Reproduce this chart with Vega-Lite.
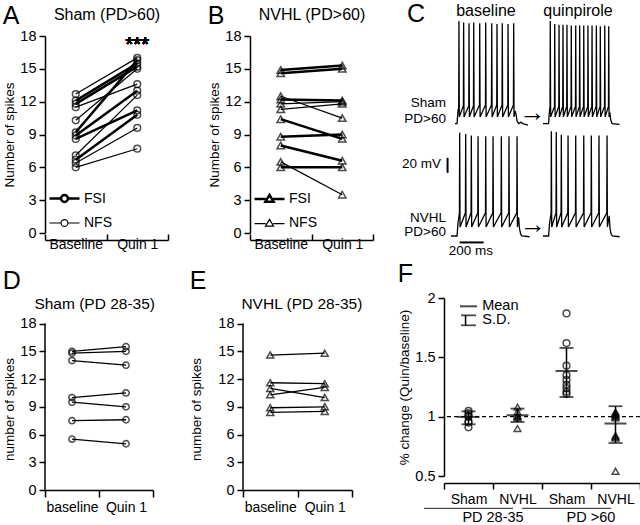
{
  "$schema": "https://vega.github.io/schema/vega-lite/v6.json",
  "padding": {"left": 2, "top": 2, "right": 0, "bottom": 0},
  "config": {
    "font": "Liberation Sans",
    "view": {"stroke": null},
    "axis": {"domainColor": "black", "domainWidth": 1.5, "tickColor": "black", "tickWidth": 1.5, "tickSize": 6, "labelColor": "black", "labelFont": "Liberation Sans", "labelFontSize": 14.5, "labelPadding": 3, "titleColor": "black", "titleFont": "Liberation Sans", "titleFontSize": 13.5, "titleFontWeight": "normal", "titlePadding": 3, "grid": false},
    "axisX": {"labelAngle": 0, "labelFontSize": 14},
    "title": {"font": "Liberation Sans", "fontSize": 25, "fontWeight": "normal", "color": "black", "anchor": "start", "frame": "bounds", "baseline": "alphabetic"},
    "legend": {"orient": "bottom-left", "offset": 3, "symbolSize": 900, "symbolStrokeColor": "black", "labelFontSize": 14, "labelOffset": 3, "rowPadding": 0, "padding": 0, "labelFont": "Liberation Sans", "labelColor": "black"}
  },
  "datasets": {
    "a": [
      {"cell": "a1", "type": "NFS", "cond": "Baseline", "n": 12.7}, {"cell": "a1", "type": "NFS", "cond": "Quin 1", "n": 16.0},
      {"cell": "a2", "type": "FSI", "cond": "Baseline", "n": 12.1}, {"cell": "a2", "type": "FSI", "cond": "Quin 1", "n": 15.5},
      {"cell": "a3", "type": "FSI", "cond": "Baseline", "n": 11.8}, {"cell": "a3", "type": "FSI", "cond": "Quin 1", "n": 15.2},
      {"cell": "a4", "type": "NFS", "cond": "Baseline", "n": 11.5}, {"cell": "a4", "type": "NFS", "cond": "Quin 1", "n": 13.6},
      {"cell": "a5", "type": "NFS", "cond": "Baseline", "n": 10.3}, {"cell": "a5", "type": "NFS", "cond": "Quin 1", "n": 15.0},
      {"cell": "a6", "type": "FSI", "cond": "Baseline", "n": 9.2}, {"cell": "a6", "type": "FSI", "cond": "Quin 1", "n": 15.8},
      {"cell": "a7", "type": "FSI", "cond": "Baseline", "n": 8.9}, {"cell": "a7", "type": "FSI", "cond": "Quin 1", "n": 13.0},
      {"cell": "a8", "type": "FSI", "cond": "Baseline", "n": 8.6}, {"cell": "a8", "type": "FSI", "cond": "Quin 1", "n": 11.2},
      {"cell": "a9", "type": "NFS", "cond": "Baseline", "n": 7.1}, {"cell": "a9", "type": "NFS", "cond": "Quin 1", "n": 12.6},
      {"cell": "a10", "type": "FSI", "cond": "Baseline", "n": 6.7}, {"cell": "a10", "type": "FSI", "cond": "Quin 1", "n": 10.8},
      {"cell": "a11", "type": "NFS", "cond": "Baseline", "n": 6.4}, {"cell": "a11", "type": "NFS", "cond": "Quin 1", "n": 9.6},
      {"cell": "a12", "type": "NFS", "cond": "Baseline", "n": 6.0}, {"cell": "a12", "type": "NFS", "cond": "Quin 1", "n": 7.7}
    ],
    "b": [
      {"cell": "b1", "type": "FSI", "cond": "Baseline", "n": 14.9}, {"cell": "b1", "type": "FSI", "cond": "Quin 1", "n": 15.3},
      {"cell": "b2", "type": "FSI", "cond": "Baseline", "n": 14.6}, {"cell": "b2", "type": "FSI", "cond": "Quin 1", "n": 15.0},
      {"cell": "b3", "type": "NFS", "cond": "Baseline", "n": 12.5}, {"cell": "b3", "type": "NFS", "cond": "Quin 1", "n": 10.5},
      {"cell": "b4", "type": "FSI", "cond": "Baseline", "n": 12.2}, {"cell": "b4", "type": "FSI", "cond": "Quin 1", "n": 12.1},
      {"cell": "b5", "type": "NFS", "cond": "Baseline", "n": 11.8}, {"cell": "b5", "type": "NFS", "cond": "Quin 1", "n": 12.0},
      {"cell": "b6", "type": "NFS", "cond": "Baseline", "n": 11.3}, {"cell": "b6", "type": "NFS", "cond": "Quin 1", "n": 11.8},
      {"cell": "b7", "type": "FSI", "cond": "Baseline", "n": 10.4}, {"cell": "b7", "type": "FSI", "cond": "Quin 1", "n": 8.6},
      {"cell": "b8", "type": "FSI", "cond": "Baseline", "n": 8.8}, {"cell": "b8", "type": "FSI", "cond": "Quin 1", "n": 9.0},
      {"cell": "b9", "type": "FSI", "cond": "Baseline", "n": 8.0}, {"cell": "b9", "type": "FSI", "cond": "Quin 1", "n": 6.6},
      {"cell": "b10", "type": "NFS", "cond": "Baseline", "n": 6.5}, {"cell": "b10", "type": "NFS", "cond": "Quin 1", "n": 3.5},
      {"cell": "b11", "type": "FSI", "cond": "Baseline", "n": 6.0}, {"cell": "b11", "type": "FSI", "cond": "Quin 1", "n": 6.0}
    ],
    "d": [
      {"cell": "d1", "cond": "baseline", "n": 15.0}, {"cell": "d1", "cond": "Quin 1", "n": 15.5},
      {"cell": "d2", "cond": "baseline", "n": 14.8}, {"cell": "d2", "cond": "Quin 1", "n": 15.0},
      {"cell": "d3", "cond": "baseline", "n": 14.0}, {"cell": "d3", "cond": "Quin 1", "n": 13.5},
      {"cell": "d4", "cond": "baseline", "n": 10.0}, {"cell": "d4", "cond": "Quin 1", "n": 10.5},
      {"cell": "d5", "cond": "baseline", "n": 9.5}, {"cell": "d5", "cond": "Quin 1", "n": 9.0},
      {"cell": "d6", "cond": "baseline", "n": 7.5}, {"cell": "d6", "cond": "Quin 1", "n": 7.6},
      {"cell": "d7", "cond": "baseline", "n": 5.5}, {"cell": "d7", "cond": "Quin 1", "n": 5.0}
    ],
    "e": [
      {"cell": "e1", "cond": "baseline", "n": 14.6}, {"cell": "e1", "cond": "Quin 1", "n": 14.8},
      {"cell": "e2", "cond": "baseline", "n": 11.6}, {"cell": "e2", "cond": "Quin 1", "n": 11.5},
      {"cell": "e3", "cond": "baseline", "n": 11.0}, {"cell": "e3", "cond": "Quin 1", "n": 10.0},
      {"cell": "e4", "cond": "baseline", "n": 10.3}, {"cell": "e4", "cond": "Quin 1", "n": 11.1},
      {"cell": "e5", "cond": "baseline", "n": 8.9}, {"cell": "e5", "cond": "Quin 1", "n": 9.0},
      {"cell": "e6", "cond": "baseline", "n": 8.4}, {"cell": "e6", "cond": "Quin 1", "n": 8.5}
    ],
    "f": [
      {"grp": "Sham", "cell": "Sham", "r": 1.05}, {"grp": "Sham", "cell": "Sham", "r": 1.03}, {"grp": "Sham", "cell": "Sham", "r": 1.01}, {"grp": "Sham", "cell": "Sham", "r": 0.96}, {"grp": "Sham", "cell": "Sham", "r": 0.95}, {"grp": "Sham", "cell": "Sham", "r": 0.91}, {"grp": "Sham", "cell": "Sham", "r": 1.0},
      {"grp": "NVHL", "cell": "NVHL", "r": 1.08}, {"grp": "NVHL", "cell": "NVHL", "r": 1.04}, {"grp": "NVHL", "cell": "NVHL", "r": 1.01}, {"grp": "NVHL", "cell": "NVHL", "r": 1.0}, {"grp": "NVHL", "cell": "NVHL", "r": 0.99}, {"grp": "NVHL", "cell": "NVHL", "r": 0.9},
      {"grp": "Sham ", "cell": "Sham", "r": 1.87}, {"grp": "Sham ", "cell": "Sham", "r": 1.62}, {"grp": "Sham ", "cell": "Sham", "r": 1.43}, {"grp": "Sham ", "cell": "Sham", "r": 1.35}, {"grp": "Sham ", "cell": "Sham", "r": 1.31}, {"grp": "Sham ", "cell": "Sham", "r": 1.27}, {"grp": "Sham ", "cell": "Sham", "r": 1.24}, {"grp": "Sham ", "cell": "Sham", "r": 1.21}, {"grp": "Sham ", "cell": "Sham", "r": 1.19},
      {"grp": "NVHL ", "cell": "NVHL", "r": 1.04}, {"grp": "NVHL ", "cell": "NVHL", "r": 1.03}, {"grp": "NVHL ", "cell": "NVHL", "r": 1.02}, {"grp": "NVHL ", "cell": "NVHL", "r": 1.01}, {"grp": "NVHL ", "cell": "NVHL", "r": 1.0}, {"grp": "NVHL ", "cell": "NVHL", "r": 0.99}, {"grp": "NVHL ", "cell": "NVHL", "r": 0.84}, {"grp": "NVHL ", "cell": "NVHL", "r": 0.83}, {"grp": "NVHL ", "cell": "NVHL", "r": 0.82}, {"grp": "NVHL ", "cell": "NVHL", "r": 0.54}
    ],
    "fs": [
      {"grp": "Sham", "mean": 0.998, "lo": 0.936, "hi": 1.045},
      {"grp": "NVHL", "mean": 1.012, "lo": 0.955, "hi": 1.068},
      {"grp": "Sham ", "mean": 1.385, "lo": 1.166, "hi": 1.579},
      {"grp": "NVHL ", "mean": 0.942, "lo": 0.778, "hi": 1.088}
    ],
    "tr": [
      {"tr": "SB", "t": 0, "v": -67}, {"tr": "SB", "t": 17, "v": -67}, {"tr": "SB", "t": 25, "v": -50},
      {"tr": "SB", "t": 31, "v": -45}, {"tr": "SB", "t": 33, "v": 70}, {"tr": "SB", "t": 36, "v": -58},
      {"tr": "SB", "t": 70, "v": -43}, {"tr": "SB", "t": 72, "v": 68}, {"tr": "SB", "t": 75, "v": -58},
      {"tr": "SB", "t": 115, "v": -43}, {"tr": "SB", "t": 117, "v": 67}, {"tr": "SB", "t": 120, "v": -58},
      {"tr": "SB", "t": 154, "v": -43}, {"tr": "SB", "t": 156, "v": 68}, {"tr": "SB", "t": 159, "v": -58},
      {"tr": "SB", "t": 204, "v": -42}, {"tr": "SB", "t": 206, "v": 67}, {"tr": "SB", "t": 209, "v": -58},
      {"tr": "SB", "t": 254, "v": -42}, {"tr": "SB", "t": 256, "v": 68}, {"tr": "SB", "t": 259, "v": -58},
      {"tr": "SB", "t": 304, "v": -42}, {"tr": "SB", "t": 306, "v": 67}, {"tr": "SB", "t": 309, "v": -58},
      {"tr": "SB", "t": 348, "v": -42}, {"tr": "SB", "t": 350, "v": 66}, {"tr": "SB", "t": 353, "v": -58},
      {"tr": "SB", "t": 392, "v": -42}, {"tr": "SB", "t": 394, "v": 67}, {"tr": "SB", "t": 397, "v": -58},
      {"tr": "SB", "t": 440, "v": -42}, {"tr": "SB", "t": 442, "v": 66}, {"tr": "SB", "t": 445, "v": -58},
      {"tr": "SB", "t": 487, "v": -42}, {"tr": "SB", "t": 489, "v": 67}, {"tr": "SB", "t": 492, "v": -58},
      {"tr": "SB", "t": 500, "v": -50}, {"tr": "SB", "t": 508, "v": -54}, {"tr": "SB", "t": 518, "v": -64}, {"tr": "SB", "t": 532, "v": -67}, {"tr": "SB", "t": 548, "v": -65}, {"tr": "SB", "t": 565, "v": -67}, {"tr": "SB", "t": 608, "v": -69},
      {"tr": "SQ", "t": 733, "v": -67}, {"tr": "SQ", "t": 780, "v": -67}, {"tr": "SQ", "t": 786, "v": -52},
      {"tr": "SQ", "t": 792, "v": -44}, {"tr": "SQ", "t": 794, "v": 70}, {"tr": "SQ", "t": 797, "v": -58},
      {"tr": "SQ", "t": 829, "v": -44}, {"tr": "SQ", "t": 831, "v": 66}, {"tr": "SQ", "t": 834, "v": -58},
      {"tr": "SQ", "t": 865, "v": -44}, {"tr": "SQ", "t": 867, "v": 65}, {"tr": "SQ", "t": 870, "v": -58},
      {"tr": "SQ", "t": 898, "v": -44}, {"tr": "SQ", "t": 900, "v": 65}, {"tr": "SQ", "t": 903, "v": -58},
      {"tr": "SQ", "t": 931, "v": -44}, {"tr": "SQ", "t": 933, "v": 65}, {"tr": "SQ", "t": 936, "v": -58},
      {"tr": "SQ", "t": 967, "v": -44}, {"tr": "SQ", "t": 969, "v": 64}, {"tr": "SQ", "t": 972, "v": -58},
      {"tr": "SQ", "t": 1004, "v": -44}, {"tr": "SQ", "t": 1006, "v": 64}, {"tr": "SQ", "t": 1009, "v": -58},
      {"tr": "SQ", "t": 1037, "v": -44}, {"tr": "SQ", "t": 1039, "v": 64}, {"tr": "SQ", "t": 1042, "v": -58},
      {"tr": "SQ", "t": 1071, "v": -44}, {"tr": "SQ", "t": 1073, "v": 64}, {"tr": "SQ", "t": 1076, "v": -58},
      {"tr": "SQ", "t": 1106, "v": -44}, {"tr": "SQ", "t": 1108, "v": 64}, {"tr": "SQ", "t": 1111, "v": -58},
      {"tr": "SQ", "t": 1140, "v": -44}, {"tr": "SQ", "t": 1142, "v": 64}, {"tr": "SQ", "t": 1145, "v": -58},
      {"tr": "SQ", "t": 1176, "v": -44}, {"tr": "SQ", "t": 1178, "v": 64}, {"tr": "SQ", "t": 1181, "v": -58},
      {"tr": "SQ", "t": 1209, "v": -44}, {"tr": "SQ", "t": 1211, "v": 63}, {"tr": "SQ", "t": 1214, "v": -58},
      {"tr": "SQ", "t": 1246, "v": -44}, {"tr": "SQ", "t": 1248, "v": 64}, {"tr": "SQ", "t": 1251, "v": -58},
      {"tr": "SQ", "t": 1279, "v": -44}, {"tr": "SQ", "t": 1281, "v": 63}, {"tr": "SQ", "t": 1284, "v": -58},
      {"tr": "SQ", "t": 1290, "v": -52}, {"tr": "SQ", "t": 1298, "v": -62}, {"tr": "SQ", "t": 1310, "v": -67}, {"tr": "SQ", "t": 1372, "v": -68},
      {"tr": "NB", "t": -33, "v": -217}, {"tr": "NB", "t": 17, "v": -217}, {"tr": "NB", "t": 25, "v": -200},
      {"tr": "NB", "t": 37, "v": -186}, {"tr": "NB", "t": 39, "v": -79}, {"tr": "NB", "t": 42, "v": -205},
      {"tr": "NB", "t": 87, "v": -186}, {"tr": "NB", "t": 89, "v": -81}, {"tr": "NB", "t": 92, "v": -205},
      {"tr": "NB", "t": 134, "v": -186}, {"tr": "NB", "t": 136, "v": -83}, {"tr": "NB", "t": 139, "v": -205},
      {"tr": "NB", "t": 190, "v": -186}, {"tr": "NB", "t": 192, "v": -84}, {"tr": "NB", "t": 195, "v": -205},
      {"tr": "NB", "t": 254, "v": -186}, {"tr": "NB", "t": 256, "v": -84}, {"tr": "NB", "t": 259, "v": -205},
      {"tr": "NB", "t": 315, "v": -186}, {"tr": "NB", "t": 317, "v": -84}, {"tr": "NB", "t": 320, "v": -205},
      {"tr": "NB", "t": 384, "v": -186}, {"tr": "NB", "t": 386, "v": -84}, {"tr": "NB", "t": 389, "v": -205},
      {"tr": "NB", "t": 448, "v": -186}, {"tr": "NB", "t": 450, "v": -84}, {"tr": "NB", "t": 453, "v": -205},
      {"tr": "NB", "t": 515, "v": -186}, {"tr": "NB", "t": 517, "v": -84}, {"tr": "NB", "t": 520, "v": -205},
      {"tr": "NB", "t": 530, "v": -192}, {"tr": "NB", "t": 537, "v": -207}, {"tr": "NB", "t": 548, "v": -215}, {"tr": "NB", "t": 558, "v": -217}, {"tr": "NB", "t": 622, "v": -218},
      {"tr": "NQ", "t": 733, "v": -217}, {"tr": "NQ", "t": 780, "v": -217}, {"tr": "NQ", "t": 788, "v": -200},
      {"tr": "NQ", "t": 801, "v": -186}, {"tr": "NQ", "t": 803, "v": -77}, {"tr": "NQ", "t": 806, "v": -205},
      {"tr": "NQ", "t": 842, "v": -186}, {"tr": "NQ", "t": 844, "v": -78}, {"tr": "NQ", "t": 847, "v": -205},
      {"tr": "NQ", "t": 884, "v": -186}, {"tr": "NQ", "t": 886, "v": -82}, {"tr": "NQ", "t": 889, "v": -205},
      {"tr": "NQ", "t": 940, "v": -186}, {"tr": "NQ", "t": 942, "v": -83}, {"tr": "NQ", "t": 945, "v": -205},
      {"tr": "NQ", "t": 1004, "v": -186}, {"tr": "NQ", "t": 1006, "v": -83}, {"tr": "NQ", "t": 1009, "v": -205},
      {"tr": "NQ", "t": 1071, "v": -186}, {"tr": "NQ", "t": 1073, "v": -83}, {"tr": "NQ", "t": 1076, "v": -205},
      {"tr": "NQ", "t": 1134, "v": -186}, {"tr": "NQ", "t": 1136, "v": -83}, {"tr": "NQ", "t": 1139, "v": -205},
      {"tr": "NQ", "t": 1198, "v": -186}, {"tr": "NQ", "t": 1200, "v": -83}, {"tr": "NQ", "t": 1203, "v": -205},
      {"tr": "NQ", "t": 1265, "v": -186}, {"tr": "NQ", "t": 1267, "v": -83}, {"tr": "NQ", "t": 1270, "v": -205},
      {"tr": "NQ", "t": 1285, "v": -190}, {"tr": "NQ", "t": 1292, "v": -207}, {"tr": "NQ", "t": 1302, "v": -215}, {"tr": "NQ", "t": 1312, "v": -217}, {"tr": "NQ", "t": 1372, "v": -218}
    ]
  },
  "spacing": 3,
  "resolve": {"scale": {"strokeWidth": "independent", "shape": "independent"}, "legend": {"strokeWidth": "independent", "shape": "independent"}},
  "vconcat": [
    {
      "spacing": 82,
      "bounds": "flush",
      "resolve": {"scale": {"strokeWidth": "independent", "shape": "independent"}, "legend": {"strokeWidth": "independent", "shape": "independent"}},
      "hconcat": [
        {
          "width": 123, "height": 197,
          "title": {"text": "A", "offset": -23},
          "data": {"name": "a"},
          "layer": [
            {"mark": {"type": "line", "color": "black"},
             "encoding": {
               "x": {"field": "cond", "type": "nominal", "sort": ["Baseline", "Quin 1"], "scale": {"paddingInner": 0, "paddingOuter": 0}, "axis": {"orient": "top", "title": "Sham (PD>60)", "titleFontSize": 16, "titlePadding": 14, "domain": false, "ticks": false, "labels": false}},
               "y": {"field": "n", "type": "quantitative", "scale": {"domain": [0, 18]}, "axis": {"title": "Number of spikes", "values": [0, 3, 6, 9, 12, 15, 18]}},
               "detail": {"field": "cell", "type": "nominal"},
               "strokeWidth": {"field": "type", "type": "ordinal", "scale": {"domain": ["FSI", "NFS"], "range": [2.5, 1.2]}, "legend": {"title": null, "symbolType": "M-1,0L-0.23,0M0.23,0L1,0M0.23,0A0.23,0.23,0,1,1,-0.23,0A0.23,0.23,0,1,1,0.23,0"}}
             }},
            {"mark": {"type": "point", "shape": "circle", "filled": false, "color": "black", "strokeWidth": 1.5, "size": 45},
             "encoding": {
               "x": {"field": "cond", "type": "nominal", "sort": ["Baseline", "Quin 1"], "axis": {"orient": "bottom", "title": null, "offset": 7, "tickBand": "extent", "tickSize": -6}},
               "y": {"field": "n", "type": "quantitative", "axis": {"title": "Number of spikes", "values": [0, 3, 6, 9, 12, 15, 18]}}
             }},
            {"mark": {"type": "text", "text": "***", "fontSize": 20, "baseline": "middle"},
             "encoding": {"x": {"datum": "Quin 1", "axis": null}, "y": {"datum": 17.2, "type": "quantitative", "axis": {"title": "Number of spikes", "values": [0, 3, 6, 9, 12, 15, 18]}}}}
          ],
          "resolve": {"axis": {"x": "independent"}}
        },
        {
          "width": 123, "height": 197,
          "title": {"text": "B", "offset": -23},
          "data": {"name": "b"},
          "layer": [
            {"mark": {"type": "line", "color": "black"},
             "encoding": {
               "x": {"field": "cond", "type": "nominal", "sort": ["Baseline", "Quin 1"], "scale": {"paddingInner": 0, "paddingOuter": 0}, "axis": {"orient": "top", "title": "NVHL (PD>60)", "titleFontSize": 16, "titlePadding": 14, "domain": false, "ticks": false, "labels": false}},
               "y": {"field": "n", "type": "quantitative", "scale": {"domain": [0, 18]}, "axis": {"title": "Number of spikes", "values": [0, 3, 6, 9, 12, 15, 18]}},
               "detail": {"field": "cell", "type": "nominal"},
               "strokeWidth": {"field": "type", "type": "ordinal", "scale": {"domain": ["FSI", "NFS"], "range": [2.5, 1.2]}, "legend": {"title": null, "symbolType": "M-1,0.04L-0.25,0.04M0.25,0.04L1,0.04M0,-0.24L0.27,0.21L-0.27,0.21Z"}}
             }},
            {"mark": {"type": "point", "shape": "triangle-up", "filled": false, "color": "black", "strokeWidth": 1.5, "size": 55},
             "encoding": {
               "x": {"field": "cond", "type": "nominal", "sort": ["Baseline", "Quin 1"], "axis": {"orient": "bottom", "title": null, "offset": 7, "tickBand": "extent", "tickSize": -6}},
               "y": {"field": "n", "type": "quantitative", "axis": {"title": "Number of spikes", "values": [0, 3, 6, 9, 12, 15, 18]}}
             }}
          ],
          "resolve": {"axis": {"x": "independent"}}
        },
        {
          "width": 174, "height": 197,
          "layer": [
            {"data": {"name": "tr"},
             "mark": {"type": "line", "color": "black", "strokeWidth": 1.3},
             "encoding": {
               "x": {"field": "t", "type": "quantitative", "scale": {"domain": [0, 1450], "nice": false, "zero": false}, "axis": null},
               "y": {"field": "v", "type": "quantitative", "scale": {"domain": [-213, 50], "nice": false, "zero": false}, "axis": null},
               "detail": {"field": "tr", "type": "nominal"}
             }},
            {"data": {"values": [{}]}, "mark": {"type": "rule", "color": "black", "strokeWidth": 2},
             "encoding": {"x": {"datum": -62, "type": "quantitative"}, "y": {"datum": -112.7, "type": "quantitative"}, "y2": {"datum": -132.7}}},
            {"data": {"values": [{}]}, "mark": {"type": "rule", "color": "black", "strokeWidth": 2},
             "encoding": {"x": {"datum": 39, "type": "quantitative"}, "x2": {"datum": 239}, "y": {"datum": -225.6, "type": "quantitative"}}},
            {"data": {"values": [{}]}, "mark": {"type": "text", "text": "C", "fontSize": 25, "align": "left", "baseline": "middle"},
             "encoding": {"x": {"datum": -400, "type": "quantitative"}, "y": {"datum": 79, "type": "quantitative"}}},
            {"data": {"values": [{}]}, "mark": {"type": "text", "text": "baseline", "fontSize": 16, "baseline": "middle"},
             "encoding": {"x": {"datum": 258, "type": "quantitative"}, "y": {"datum": 83, "type": "quantitative"}}},
            {"data": {"values": [{}]}, "mark": {"type": "text", "text": "quinpirole", "fontSize": 16, "baseline": "middle"},
             "encoding": {"x": {"datum": 1025, "type": "quantitative"}, "y": {"datum": 83, "type": "quantitative"}}},
            {"data": {"values": [{}]}, "mark": {"type": "text", "text": "Sham", "fontSize": 13.5, "align": "right", "baseline": "middle"},
             "encoding": {"x": {"datum": -75, "type": "quantitative"}, "y": {"datum": -39, "type": "quantitative"}}},
            {"data": {"values": [{}]}, "mark": {"type": "text", "text": "PD>60", "fontSize": 13.5, "align": "right", "baseline": "middle"},
             "encoding": {"x": {"datum": -75, "type": "quantitative"}, "y": {"datum": -60.7, "type": "quantitative"}}},
            {"data": {"values": [{}]}, "mark": {"type": "text", "text": "NVHL", "fontSize": 13.5, "align": "right", "baseline": "middle"},
             "encoding": {"x": {"datum": -75, "type": "quantitative"}, "y": {"datum": -192.7, "type": "quantitative"}}},
            {"data": {"values": [{}]}, "mark": {"type": "text", "text": "PD>60", "fontSize": 13.5, "align": "right", "baseline": "middle"},
             "encoding": {"x": {"datum": -75, "type": "quantitative"}, "y": {"datum": -211, "type": "quantitative"}}},
            {"data": {"values": [{}]}, "mark": {"type": "text", "text": "20 mV", "fontSize": 13.5, "align": "right", "baseline": "middle"},
             "encoding": {"x": {"datum": -117, "type": "quantitative"}, "y": {"datum": -120.7, "type": "quantitative"}}},
            {"data": {"values": [{}]}, "mark": {"type": "text", "text": "200 ms", "fontSize": 13.5, "baseline": "middle"},
             "encoding": {"x": {"datum": 133, "type": "quantitative"}, "y": {"datum": -236.7, "type": "quantitative"}}},
            {"data": {"values": [{}]}, "mark": {"type": "text", "text": "→", "fontSize": 26, "fontWeight": "bold", "baseline": "middle"},
             "encoding": {"x": {"datum": 646, "type": "quantitative"}, "y": {"datum": -52.7, "type": "quantitative"}}},
            {"data": {"values": [{}]}, "mark": {"type": "text", "text": "→", "fontSize": 26, "fontWeight": "bold", "baseline": "middle"},
             "encoding": {"x": {"datum": 650, "type": "quantitative"}, "y": {"datum": -202, "type": "quantitative"}}}
          ]
        }
      ]
    },
    {
      "spacing": 34,
      "resolve": {"scale": {"strokeWidth": "independent", "shape": "independent"}, "legend": {"strokeWidth": "independent", "shape": "independent"}},
      "hconcat": [
        {
          "width": 108, "height": 192,
          "title": {"text": "D", "offset": 3},
          "data": {"name": "d"},
          "layer": [
            {"mark": {"type": "line", "color": "black", "strokeWidth": 1.3},
             "encoding": {
               "x": {"field": "cond", "type": "nominal", "sort": ["baseline", "Quin 1"], "scale": {"paddingInner": 0, "paddingOuter": 0}, "axis": null},
               "y": {"field": "n", "type": "quantitative", "scale": {"domain": [0, 20.77], "nice": false}, "axis": {"title": "number of spikes", "values": [0, 3, 6, 9, 12, 15, 18], "domain": false, "titleY": 111}},
               "detail": {"field": "cell", "type": "nominal"}
             }},
            {"mark": {"type": "point", "shape": "circle", "filled": false, "color": "black", "strokeWidth": 1.5, "size": 40},
             "encoding": {
               "x": {"field": "cond", "type": "nominal", "sort": ["baseline", "Quin 1"], "axis": {"orient": "bottom", "title": null, "tickBand": "extent", "tickSize": 7}},
               "y": {"field": "n", "type": "quantitative", "axis": {"title": "number of spikes", "values": [0, 3, 6, 9, 12, 15, 18], "domain": false, "titleY": 111}}
             }},
            {"data": {"values": [{}]}, "mark": {"type": "rule", "color": "black", "strokeWidth": 1.5},
             "encoding": {"x": {"datum": "baseline", "bandPosition": 0, "axis": null}, "y": {"datum": 0, "type": "quantitative", "axis": {"title": "number of spikes", "values": [0, 3, 6, 9, 12, 15, 18], "domain": false, "titleY": 111}}, "y2": {"datum": 18}}},
            {"data": {"values": [{}]}, "mark": {"type": "text", "text": "Sham (PD 28-35)", "fontSize": 15.5, "baseline": "middle"},
             "encoding": {"x": {"datum": "baseline", "bandPosition": 0.92, "axis": null}, "y": {"datum": 20.14, "type": "quantitative", "axis": {"title": "number of spikes", "values": [0, 3, 6, 9, 12, 15, 18], "domain": false, "titleY": 111}}}}
          ],
          "resolve": {"axis": {"x": "independent"}}
        },
        {
          "width": 109, "height": 192,
          "title": {"text": "E", "offset": 3},
          "data": {"name": "e"},
          "layer": [
            {"mark": {"type": "line", "color": "black", "strokeWidth": 1.3},
             "encoding": {
               "x": {"field": "cond", "type": "nominal", "sort": ["baseline", "Quin 1"], "scale": {"paddingInner": 0, "paddingOuter": 0}, "axis": null},
               "y": {"field": "n", "type": "quantitative", "scale": {"domain": [0, 20.77], "nice": false}, "axis": {"title": "number of spikes", "values": [0, 3, 6, 9, 12, 15, 18], "domain": false, "titleY": 111, "titlePadding": 14}},
               "detail": {"field": "cell", "type": "nominal"}
             }},
            {"mark": {"type": "point", "shape": "triangle-up", "filled": false, "color": "black", "strokeWidth": 1.5, "size": 50},
             "encoding": {
               "x": {"field": "cond", "type": "nominal", "sort": ["baseline", "Quin 1"], "axis": {"orient": "bottom", "title": null, "tickBand": "extent", "tickSize": 7}},
               "y": {"field": "n", "type": "quantitative", "axis": {"title": "number of spikes", "values": [0, 3, 6, 9, 12, 15, 18], "domain": false, "titleY": 111, "titlePadding": 14}}
             }},
            {"data": {"values": [{}]}, "mark": {"type": "rule", "color": "black", "strokeWidth": 1.5},
             "encoding": {"x": {"datum": "baseline", "bandPosition": 0, "axis": null}, "y": {"datum": 0, "type": "quantitative", "axis": {"title": "number of spikes", "values": [0, 3, 6, 9, 12, 15, 18], "domain": false, "titleY": 111, "titlePadding": 14}}, "y2": {"datum": 18}}},
            {"data": {"values": [{}]}, "mark": {"type": "text", "text": "NVHL (PD 28-35)", "fontSize": 15.5, "baseline": "middle"},
             "encoding": {"x": {"datum": "Quin 1", "bandPosition": 0.08, "axis": null}, "y": {"datum": 20.14, "type": "quantitative", "axis": {"title": "number of spikes", "values": [0, 3, 6, 9, 12, 15, 18], "domain": false, "titleY": 111, "titlePadding": 14}}}}
          ],
          "resolve": {"axis": {"x": "independent"}}
        },
        {
          "width": 196, "height": 178,
          "title": {"text": "F", "offset": 3.5},
          "layer": [
            {"data": {"values": [{}]}, "mark": {"type": "rule", "color": "black", "strokeWidth": 1.2, "strokeDash": [4, 3]},
             "encoding": {"y": {"datum": 1, "type": "quantitative"}}},
            {"data": {"name": "f"},
             "mark": {"type": "point", "filled": false, "color": "black", "strokeWidth": 1.5, "size": 45},
             "encoding": {
               "x": {"field": "grp", "type": "nominal", "sort": ["Sham", "NVHL", "Sham ", "NVHL "], "scale": {"domain": ["Sham", "NVHL", "Sham ", "NVHL "], "paddingInner": 0, "paddingOuter": 0}, "axis": {"title": null, "offset": 7, "tickBand": "extent", "tickSize": 6}},
               "y": {"field": "r", "type": "quantitative", "scale": {"domain": [0.5, 2], "nice": false, "zero": false}, "axis": {"title": "% change (Quin/baseline)", "values": [0.5, 1, 1.5, 2], "format": ".2"}},
               "shape": {"field": "cell", "type": "nominal", "scale": {"domain": ["Sham", "NVHL"], "range": ["circle", "triangle-up"]}, "legend": null}
             }},
            {"data": {"name": "fs"}, "mark": {"type": "rule", "color": "black", "strokeWidth": 1.5},
             "encoding": {"x": {"field": "grp", "type": "nominal", "axis": null}, "y": {"field": "lo", "type": "quantitative"}, "y2": {"field": "hi"}}},
            {"data": {"name": "fs"}, "mark": {"type": "tick", "color": "black", "thickness": 1.8, "size": 14},
             "encoding": {"x": {"field": "grp", "type": "nominal", "axis": null}, "y": {"field": "lo", "type": "quantitative"}}},
            {"data": {"name": "fs"}, "mark": {"type": "tick", "color": "black", "thickness": 1.8, "size": 14},
             "encoding": {"x": {"field": "grp", "type": "nominal", "axis": null}, "y": {"field": "hi", "type": "quantitative"}}},
            {"data": {"name": "fs"}, "mark": {"type": "tick", "color": "black", "thickness": 2, "size": 22},
             "encoding": {"x": {"field": "grp", "type": "nominal", "axis": null}, "y": {"field": "mean", "type": "quantitative"}}},
            {"data": {"values": [{}]}, "mark": {"type": "tick", "orient": "horizontal", "color": "black", "thickness": 2, "size": 17},
             "encoding": {"x": {"datum": "Sham", "bandPosition": 0.46, "axis": null}, "y": {"datum": 1.93, "type": "quantitative"}}},
            {"data": {"values": [{}]}, "mark": {"type": "tick", "orient": "horizontal", "color": "black", "thickness": 1.8, "size": 15},
             "encoding": {"x": {"datum": "Sham", "bandPosition": 0.44, "axis": null}, "y": {"datum": 1.854, "type": "quantitative"}}},
            {"data": {"values": [{}]}, "mark": {"type": "tick", "orient": "horizontal", "color": "black", "thickness": 1.8, "size": 15},
             "encoding": {"x": {"datum": "Sham", "bandPosition": 0.44, "axis": null}, "y": {"datum": 1.77, "type": "quantitative"}}},
            {"data": {"values": [{}]}, "mark": {"type": "rule", "color": "black", "strokeWidth": 1.5},
             "encoding": {"x": {"datum": "Sham", "bandPosition": 0.44, "axis": null}, "y": {"datum": 1.77, "type": "quantitative"}, "y2": {"datum": 1.854}}},
            {"data": {"values": [{}]}, "mark": {"type": "text", "text": "Mean", "fontSize": 14.5, "align": "left", "baseline": "middle"},
             "encoding": {"x": {"datum": "Sham", "bandPosition": 0.78, "axis": null}, "y": {"datum": 1.93, "type": "quantitative"}}},
            {"data": {"values": [{}]}, "mark": {"type": "text", "text": "S.D.", "fontSize": 14.5, "align": "left", "baseline": "middle"},
             "encoding": {"x": {"datum": "Sham", "bandPosition": 0.78, "axis": null}, "y": {"datum": 1.812, "type": "quantitative"}}},
            {"data": {"values": [{}]}, "mark": {"type": "tick", "orient": "horizontal", "color": "black", "thickness": 1.2, "size": 89},
             "encoding": {"x": {"datum": "Sham", "bandPosition": 1, "axis": null}, "y": {"datum": 0.228, "type": "quantitative"}}},
            {"data": {"values": [{}]}, "mark": {"type": "tick", "orient": "horizontal", "color": "black", "thickness": 1.2, "size": 89},
             "encoding": {"x": {"datum": "Sham ", "bandPosition": 1, "axis": null}, "y": {"datum": 0.228, "type": "quantitative"}}},
            {"data": {"values": [{}]}, "mark": {"type": "text", "text": "PD 28-35", "fontSize": 14.5, "baseline": "middle"},
             "encoding": {"x": {"datum": "Sham", "bandPosition": 1, "axis": null}, "y": {"datum": 0.144, "type": "quantitative"}}},
            {"data": {"values": [{}]}, "mark": {"type": "text", "text": "PD >60", "fontSize": 14.5, "baseline": "middle"},
             "encoding": {"x": {"datum": "Sham ", "bandPosition": 1, "axis": null}, "y": {"datum": 0.144, "type": "quantitative"}}}
          ],
          "resolve": {"axis": {"x": "independent"}}
        }
      ]
    }
  ]
}
